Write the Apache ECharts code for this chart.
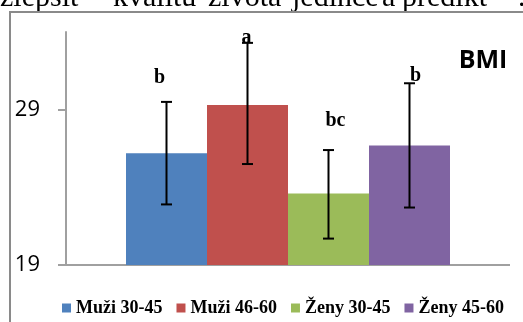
<!DOCTYPE html>
<html>
<head>
<meta charset="utf-8">
<script src="https://cdn.jsdelivr.net/npm/echarts@6/dist/echarts.min.js"></script>
<style>
html,body{margin:0;padding:0;background:#fff;}
#chart{width:523px;height:322px;}
</style>
</head>
<body>
<div id="chart"></div>
<script>
// ---- data ----
const categories = ['BMI'];
const seriesNames = ['Muži 30-45', 'Muži 46-60', 'Ženy 30-45', 'Ženy 45-60'];
const means = [26.2, 29.3, 23.6, 26.7];
const errLow = [22.9, 25.5, 20.7, 22.7];
const errHigh = [29.5, 33.3, 26.4, 30.7];
const letters = ['b', 'a', 'bc', 'b'];
const yTicks = [19, 29];
const titleText = 'BMI';
const bodyWords = ['zlepšit', 'kvalitu', 'života', 'jedince', 'a', 'predikt', '.'];

// ---- style ----
const colors = ['#4F81BD', '#C0504D', '#9BBB59', '#8064A2'];
const barW = 81;
const capW = 11;
const letterDx = [-7, -1, 7, 6];
const letterDy = [-24, -5, -29, -7];
const wordX = [0, 113, 208, 292, 382, 402, 518];

const chart = echarts.init(document.getElementById('chart'));

const barSeries = seriesNames.map((name, i) => ({
  name: name,
  type: 'bar',
  barWidth: barW,
  barGap: '0%',
  itemStyle: { color: colors[i] },
  data: [means[i]],
  z: 2
}));

const errSeries = {
  type: 'custom',
  name: 'err',
  z: 5,
  data: means.map((m, i) => [0, errLow[i], errHigh[i], i]),
  encode: { x: 0, y: [1, 2] },
  renderItem: function (params, api) {
    const idx = api.value(3);
    const lo = api.coord([api.value(0), api.value(1)]);
    const hi = api.coord([api.value(0), api.value(2)]);
    const x = lo[0] + (idx - 1.5) * barW;
    const st = { stroke: '#000', lineWidth: 2 };
    return {
      type: 'group',
      children: [
        { type: 'line', shape: { x1: x, y1: hi[1], x2: x, y2: lo[1] }, style: st },
        { type: 'line', shape: { x1: x - capW / 2, y1: hi[1], x2: x + capW / 2, y2: hi[1] }, style: st },
        { type: 'line', shape: { x1: x - capW / 2, y1: lo[1], x2: x + capW / 2, y2: lo[1] }, style: st },
        {
          type: 'text',
          x: x + letterDx[idx],
          y: hi[1] + letterDy[idx],
          style: {
            text: letters[idx],
            fill: '#000',
            font: 'bold 20px "Liberation Serif"',
            align: 'center',
            verticalAlign: 'middle'
          }
        }
      ]
    };
  }
};

const graphics = bodyWords.map((w, i) => ({
  type: 'text',
  x: wordX[i],
  y: -2,
  z: -20,
  style: {
    text: w,
    fill: '#000',
    font: '30px "Liberation Serif"',
    verticalAlign: 'middle'
  }
}));
graphics.push({
  type: 'rect',
  z: -10,
  shape: { x: 10, y: 12, width: 530, height: 330 },
  style: { fill: '#fff', stroke: '#8a8a8a', lineWidth: 2 }
});
graphics.push({
  type: 'text',
  z: 10,
  x: 483,
  y: 61,
  style: {
    text: titleText,
    fill: '#000',
    font: 'bold 25px "Open Sans"',
    align: 'center',
    verticalAlign: 'middle'
  }
});

chart.setOption({
  animation: false,
  backgroundColor: '#fff',
  graphic: graphics,
  grid: { left: 66, right: 13, top: 32, bottom: 57, containLabel: false },
  legend: {
    data: seriesNames,
    left: 62,
    top: 299,
    padding: 0,
    itemGap: 14,
    itemWidth: 9,
    itemHeight: 9,
    icon: 'rect',
    textStyle: { fontFamily: 'Liberation Serif', fontWeight: 'bold', fontSize: 18, color: '#000' }
  },
  xAxis: {
    type: 'category',
    data: categories,
    axisLine: { show: false },
    axisTick: { show: false },
    axisLabel: { show: false }
  },
  yAxis: {
    type: 'value',
    min: 19,
    max: 34,
    interval: 10,
    axisLine: { show: true, lineStyle: { color: '#a0a0a0', width: 2 } },
    axisTick: { show: true, length: 8, customValues: yTicks, lineStyle: { color: '#a0a0a0', width: 2 } },
    axisLabel: { customValues: yTicks, margin: 26, fontFamily: 'Open Sans', fontSize: 22, color: '#000' },
    splitLine: { show: true, showMaxLine: false, lineStyle: { color: '#a0a0a0', width: 2 } }
  },
  series: barSeries.concat([errSeries])
});
</script>
</body>
</html>
